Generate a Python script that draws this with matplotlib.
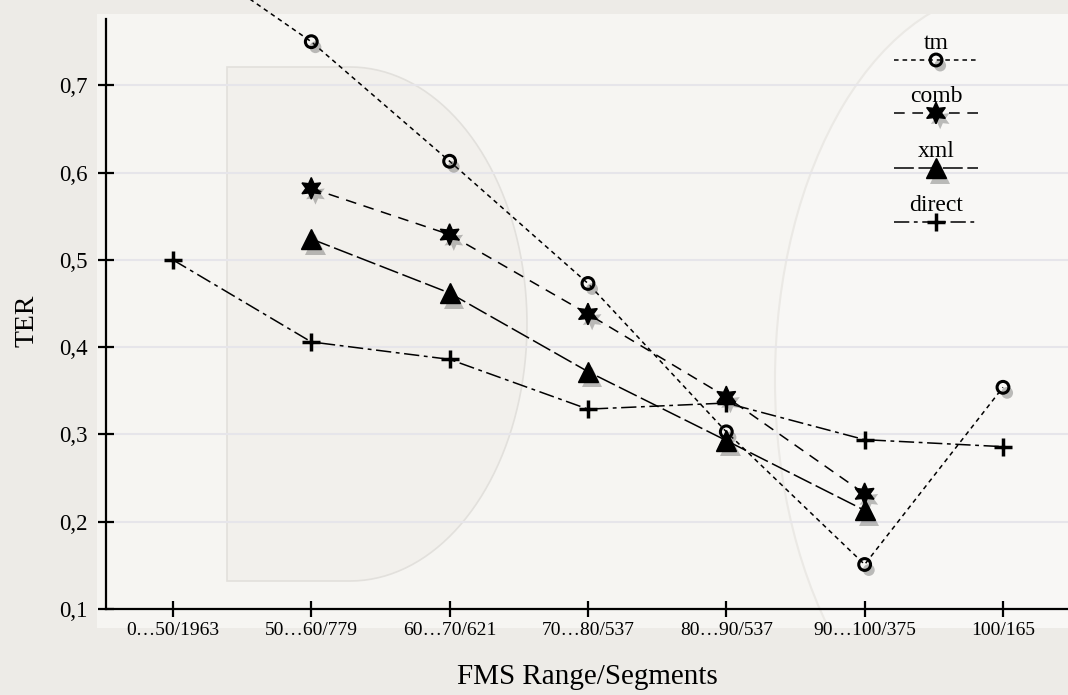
import numpy as np
import matplotlib.pyplot as plt
import matplotlib.patheffects as pe
from matplotlib.patches import FancyBboxPatch, Ellipse, Polygon

plt.rcParams['font.family'] = ['Liberation Serif', 'DejaVu Serif']

categories = ["0…50/1963", "50…60/779", "60…70/621", "70…80/537",
              "80…90/537", "90…100/375", "100/165"]

# values (None = no point)
tm = [0.86, 0.75, 0.613, 0.473, 0.303, 0.151, 0.354]
comb = [None, 0.582, 0.529, 0.438, 0.343, 0.232, None]
xml = [None, 0.524, 0.462, 0.372, 0.293, 0.213, None]
direct = [0.50, 0.406, 0.386, 0.329, 0.336, 0.294, 0.286]

yticks = [0.1, 0.2, 0.3, 0.4, 0.5, 0.6, 0.7]

series = [
    ("tm", tm, dict(marker='o', ms=8.5, mfc='none', mew=2.2, ls=(0, (3, 2.6)), lw=1.1)),
    ("comb", comb, dict(marker=(6, 1, 0), ms=15.5, ls=(0, (7, 5)), lw=1.1)),
    ("xml", xml, dict(marker='^', ms=14.5, ls=(0, (13, 3)), lw=1.1)),
    ("direct", direct, dict(marker='+', ms=13, mew=2.5, ls=(0, (10, 3, 2.5, 3)), lw=1.1)),
]

W, H = 1068, 695
fig = plt.figure(figsize=(W / 100, H / 100), dpi=100)
fig.patch.set_facecolor('#edebe7')

# lighter panel behind the plot area
panel = FancyBboxPatch((0.091, 0.096), 0.92, 0.884, boxstyle="square,pad=0",
                       transform=fig.transFigure, fc='#f6f5f2', ec='none', zorder=-3)
fig.patches.append(panel)

# faint "D" watermark
t = np.linspace(-np.pi / 2, np.pi / 2, 80)
d_pts = [(227, 67)] + [(350 + 177 * np.cos(a), 324 + 257 * np.sin(a)) for a in t] + [(227, 581)]
d_pts = [(px / W, 1 - py / H) for px, py in d_pts]
fig.patches.append(Polygon(d_pts, closed=True, transform=fig.transFigure,
                           fc='#f2f0ec', ec='#e2e0dc', lw=1.2, zorder=-2))
# faint "O" watermark
o_mark = Ellipse((1010 / W, 1 - 380 / H), 470 / W, 780 / H, transform=fig.transFigure,
                 fc='#f8f7f5', ec='#ebe9e5', lw=1.5, zorder=-2)
fig.patches.append(o_mark)
o_mark.set_clip_path(panel)

ax = fig.add_axes([106 / W, 1 - 609 / H, (W - 106) / W, 590 / H])
ax.set_facecolor('none')

x = list(range(len(categories)))
shadow = [pe.SimplePatchShadow(offset=(3, -4), shadow_rgbFace='#3a3a3a', alpha=0.32), pe.Normal()]

for name, vals, st in series:
    xs = [i for i, v in zip(x, vals) if v is not None]
    ys = [v for v in vals if v is not None]
    ax.plot(xs, ys, color='black', ls=st['ls'], lw=st['lw'], zorder=3, clip_on=False)
    ax.plot(xs, ys, color='black', ls='none', marker=st['marker'], ms=st['ms'],
            mfc=st.get('mfc', 'black'), mec='black', mew=st.get('mew', 1.0),
            zorder=4, clip_on=True, path_effects=shadow)

# legend: label above a short line sample
leg_x = 0.8628
leg_y = [0.9305, 0.8407, 0.7475, 0.6559]
for (name, vals, st), ly in zip(series, leg_y):
    ax.text(leg_x, ly + 0.019, name, transform=ax.transAxes, ha='center', va='baseline', fontsize=17)
    ax.plot([leg_x - 0.044, leg_x + 0.044], [ly, ly], transform=ax.transAxes, color='black',
            ls=st['ls'], lw=st['lw'], zorder=5)
    ax.plot([leg_x], [ly], transform=ax.transAxes, color='black', ls='none', marker=st['marker'],
            ms=st['ms'], mfc=st.get('mfc', 'black'), mec='black', mew=st.get('mew', 1.0),
            zorder=6, path_effects=shadow)

ax.set_xlim(-0.484, 6.47)
ax.set_ylim(0.1, 0.776)
ax.set_xticks(x)
ax.set_xticklabels(categories, fontsize=14)
ax.set_yticks(yticks)
ax.set_yticklabels([f"{v:.1f}".replace('.', ',') for v in yticks], fontsize=16.5)
ax.yaxis.grid(True, color='#e6e5ea', lw=1.5, zorder=0)
ax.set_axisbelow(True)

for s in ['top', 'right']:
    ax.spines[s].set_visible(False)
for s in ['left', 'bottom']:
    ax.spines[s].set_linewidth(1.6)
ax.tick_params(axis='both', direction='inout', length=11, width=1.6)
ax.tick_params(axis='x', pad=4)
ax.tick_params(axis='y', pad=8)

ax.set_ylabel("TER", fontsize=20)
ax.set_xlabel("FMS Range/Segments", fontsize=21)
ax.yaxis.set_label_coords(-67 / 962, 0.488)
ax.xaxis.set_label_coords(0.5, -55 / 590)

fig.savefig("out.png", dpi=100, facecolor=fig.get_facecolor())
